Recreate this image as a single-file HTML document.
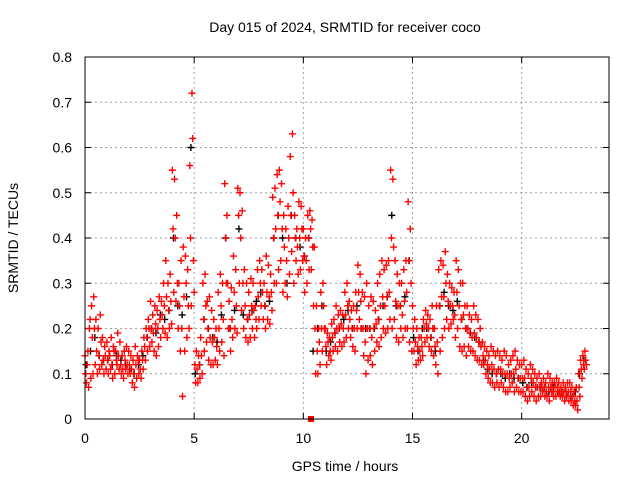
<!DOCTYPE html>
<html><head><meta charset="utf-8"><style>body{margin:0;background:#fff}svg{display:block}text{font-family:"Liberation Sans",sans-serif;font-size:14px;fill:#000}</style></head>
<body>
<svg id="chart" width="640" height="480" viewBox="0 0 640 480" xmlns="http://www.w3.org/2000/svg">
<text x="345" y="32" text-anchor="middle">Day 015 of 2024, SRMTID for receiver coco</text>
<text transform="translate(18,238) rotate(-90)" text-anchor="middle">SRMTID / TECUs</text>
<text x="345" y="471" text-anchor="middle">GPS time / hours</text>
<g id="grid"></g>
<g id="ticks"></g>
<g id="black"></g>
<g id="red"></g>
<rect x="85" y="57" width="524" height="362" fill="none" stroke="#000" stroke-width="1"/>
</svg>
<script>
const xTicks=[0,5,10,15,20];
const yTicks=[0,0.1,0.2,0.3,0.4,0.5,0.6,0.7,0.8];
const redStep=0.1, blackStep=0.2;
const redHi=[.14,.12,.2,.25,.27,.22,.2,.23,.18,.16,.17,.15,.18,.16,.15,.19,.17,.14,.15,.16,.15,.14,.13,.16,.14,.13,.15,.18,.2,.22,.26,.23,.25,.24,.27,.26,.3,.35,.3,.32,.55,.53,.45,.3,.35,.38,.36,.33,.56,.72,.28,.15,.14,.18,.3,.32,.26,.27,.24,.22,.2,.28,.32,.3,.52,.45,.26,.29,.36,.33,.51,.5,.46,.33,.3,.28,.31,.3,.25,.33,.35,.33,.3,.36,.34,.32,.49,.51,.54,.55,.52,.45,.42,.47,.58,.63,.45,.42,.48,.47,.42,.4,.45,.46,.44,.38,.25,.2,.28,.3,.2,.19,.18,.21,.22,.25,.23,.24,.23,.28,.3,.26,.24,.25,.28,.34,.32,.28,.27,.3,.25,.27,.26,.24,.3,.32,.35,.33,.34,.35,.55,.53,.35,.32,.3,.3,.33,.35,.48,.42,.25,.22,.2,.18,.18,.22,.24,.23,.22,.25,.2,.25,.33,.35,.34,.37,.32,.3,.29,.28,.35,.33,.3,.3,.25,.25,.23,.22,.25,.23,.22,.2,.17,.16,.15,.14,.16,.15,.14,.15,.14,.13,.15,.14,.12,.13,.14,.15,.13,.12,.12,.13,.11,.1,.12,.11,.1,.09,.1,.08,.09,.08,.1,.09,.08,.08,.09,.08,.07,.08,.07,.08,.08,.07,.06,.07,.1,.13,.14,.15];
const redMid=[.1,.15,.22,.18,.2,.15,.14,.17,.13,.14,.13,.14,.12,.15,.13,.14,.12,.11,.13,.12,.12,.11,.1,.12,.13,.11,.13,.16,.18,.2,.2,.19,.21,.2,.22,.23,.25,.27,.24,.26,.42,.4,.3,.25,.2,.27,.3,.25,.4,.62,.12,.11,.12,.14,.22,.25,.2,.18,.17,.18,.16,.2,.25,.22,.4,.3,.2,.22,.28,.25,.45,.4,.3,.25,.22,.23,.25,.24,.22,.27,.3,.28,.25,.28,.27,.28,.4,.42,.45,.48,.42,.38,.35,.4,.45,.5,.4,.38,.4,.42,.36,.35,.4,.42,.38,.2,.15,.17,.2,.25,.16,.17,.15,.18,.19,.2,.2,.21,.2,.23,.25,.22,.2,.2,.24,.28,.26,.2,.17,.2,.2,.18,.2,.21,.22,.25,.27,.25,.27,.28,.4,.38,.26,.25,.25,.23,.26,.28,.35,.3,.2,.17,.16,.15,.16,.2,.21,.2,.18,.2,.16,.17,.25,.27,.27,.3,.26,.25,.25,.23,.28,.25,.22,.23,.2,.2,.19,.18,.19,.18,.17,.16,.14,.13,.12,.11,.12,.11,.1,.11,.11,.1,.1,.1,.09,.1,.1,.11,.09,.09,.09,.09,.07,.07,.09,.08,.07,.07,.07,.07,.07,.06,.07,.07,.06,.07,.07,.06,.06,.06,.06,.06,.06,.05,.04,.04,.07,.11,.12,.13];
const redLo=[.08,.07,.09,.1,.12,.1,.11,.12,.1,.11,.1,.11,.09,.1,.12,.11,.1,.09,.11,.1,.1,.08,.07,.09,.1,.09,.11,.13,.15,.16,.17,.15,.14,.16,.18,.2,.19,.18,.2,.21,.28,.26,.2,.15,.05,.15,.18,.2,.25,.35,.08,.08,.09,.1,.15,.17,.13,.12,.12,.13,.12,.15,.17,.14,.3,.2,.15,.18,.2,.19,.3,.24,.2,.18,.17,.18,.2,.18,.2,.22,.25,.22,.2,.22,.21,.24,.3,.3,.33,.35,.28,.3,.27,.32,.37,.3,.35,.32,.33,.35,.28,.3,.33,.33,.25,.1,.1,.12,.15,.2,.12,.14,.13,.15,.16,.15,.17,.16,.17,.18,.2,.18,.16,.15,.2,.22,.2,.14,.1,.13,.14,.12,.15,.17,.16,.18,.2,.19,.2,.22,.2,.22,.18,.17,.2,.18,.2,.2,.17,.15,.15,.12,.13,.13,.14,.17,.18,.16,.15,.14,.12,.1,.15,.18,.2,.22,.2,.21,.22,.18,.2,.16,.15,.16,.14,.16,.15,.15,.14,.13,.13,.12,.12,.1,.09,.08,.08,.07,.08,.07,.08,.07,.06,.06,.07,.08,.06,.07,.06,.06,.06,.05,.04,.05,.06,.05,.04,.05,.05,.06,.05,.05,.04,.06,.05,.05,.06,.05,.05,.04,.05,.04,.04,.03,.03,.02,.05,.09,.11,.12];
const blackVals=[.12,.15,.18,.14,.13,.13,.12,.14,.13,.12,.11,.1,.12,.14,.18,.2,.19,.23,.22,.24,.4,.25,.23,.27,.6,.1,.12,.22,.2,.18,.17,.23,.4,.2,.24,.42,.23,.22,.24,.26,.28,.25,.26,.4,.45,.4,.3,.45,.4,.38,.36,.4,.15,.2,.25,.15,.17,.19,.2,.22,.24,.2,.25,.2,.2,.2,.2,.22,.25,.27,.45,.25,.25,.27,.35,.18,.15,.2,.2,.18,.15,.25,.28,.25,.24,.26,.22,.2,.19,.18,.17,.13,.11,.1,.1,.1,.09,.1,.09,.09,.08,.07,.08,.07,.07,.07,.06,.07,.06,.06,.05,.05,.06,.1,.13];
const gapMarker=[10.35,0];
const X0=85,X1=609,Y0=419,Y1=57,XMAX=24,YMAX=0.8;
const sx=v=>X0+v/XMAX*(X1-X0), sy=v=>Y0-v/YMAX*(Y0-Y1);
const NS='http://www.w3.org/2000/svg';
function mk(tag,parent){const e=document.createElementNS(NS,tag);document.getElementById(parent).appendChild(e);return e;}
xTicks.forEach(t=>{
 if(t>0){const g=mk('line','grid');g.setAttribute('x1',sx(t));g.setAttribute('x2',sx(t));g.setAttribute('y1',Y1);g.setAttribute('y2',Y0);g.setAttribute('stroke','#a0a0a0');g.setAttribute('stroke-dasharray','2,3');}
 const l=mk('text','ticks');l.setAttribute('x',sx(t));l.setAttribute('y',443);l.setAttribute('text-anchor','middle');l.textContent=t;
 const tk=mk('path','ticks');tk.setAttribute('d',`M${sx(t)},${Y0}v-6M${sx(t)},${Y1}v6`);tk.setAttribute('stroke','#000');
});
yTicks.forEach(t=>{
 if(t>0&&t<YMAX){const g=mk('line','grid');g.setAttribute('x1',X0);g.setAttribute('x2',X1);g.setAttribute('y1',sy(t));g.setAttribute('y2',sy(t));g.setAttribute('stroke','#a0a0a0');g.setAttribute('stroke-dasharray','2,3');}
 const l=mk('text','ticks');l.setAttribute('x',72);l.setAttribute('y',sy(t)+5);l.setAttribute('text-anchor','end');l.textContent=t===0?'0':t.toFixed(1);
 const tk=mk('path','ticks');tk.setAttribute('d',`M${X0},${sy(t)}h6M${X1},${sy(t)}h-6`);tk.setAttribute('stroke','#000');
});
function cross(g,x,y,c,name){const p=mk('path',g);p.setAttribute('d',`M${sx(x)-3.5},${sy(y)}h7M${sx(x)},${sy(y)-3.5}v7`);p.setAttribute('stroke',c);p.setAttribute('stroke-width','1.4');}
blackVals.forEach((v,i)=>cross('black',i*blackStep+0.05,v,'#000','black-point'));
redHi.forEach((v,i)=>cross('red',i*redStep,v,'#f00','red-point-high'));
redMid.forEach((v,i)=>cross('red',i*redStep+0.033,v,'#f00','red-point-mid'));
redLo.forEach((v,i)=>cross('red',i*redStep+0.066,v,'#f00','red-point-low'));
const sq=mk('rect','red');sq.setAttribute('x',sx(gapMarker[0])-3);sq.setAttribute('y',sy(gapMarker[1])-3);sq.setAttribute('width',6);sq.setAttribute('height',6);sq.setAttribute('fill','#f00');
</script>
</body></html>
